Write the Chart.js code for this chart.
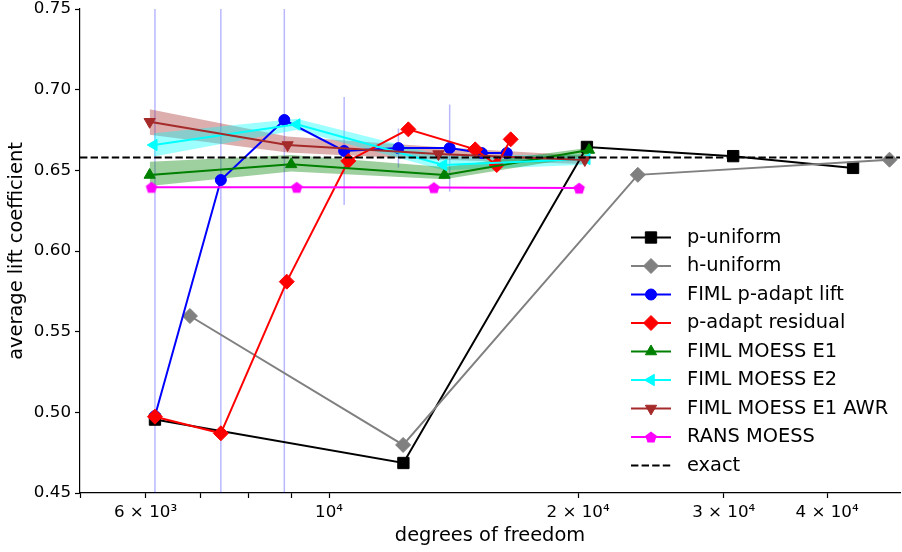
<!DOCTYPE html>
<html>
<head>
<meta charset="utf-8">
<title>average lift coefficient vs degrees of freedom</title>
<script src="https://cdn.jsdelivr.net/npm/chart.js@4/dist/chart.umd.min.js"></script>
<style>
  html, body { margin: 0; padding: 0; background: #fff; }
  #lift-chart { display: block; }
</style>
</head>
<body>
<canvas id="lift-chart" width="902" height="552"></canvas>
<script>
// degrees of freedom (x) and average lift coefficient (y) for each run
const pUniformDof = [6160, 12300, 20500, 30800, 43000];
const pUniformCl = [0.4955, 0.4686, 0.6645, 0.6588, 0.6515];

const hUniformDof = [6790, 12290, 23620, 47590];
const hUniformCl = [0.5597, 0.4798, 0.6472, 0.6566];

const pAdaptLiftDof = [6160, 7400, 8830, 10430, 12130, 13990, 15300, 16400];
const pAdaptLiftCl = [0.4977, 0.6440, 0.6812, 0.6620, 0.6638, 0.6638, 0.6607, 0.6607];
const pAdaptLiftErr = [0.5, 0.5, 0.5, 0.0335, 0.0121, 0.0270, 0, 0];

const pAdaptResDof = [6160, 7400, 8890, 10550, 12470, 15020, 15950, 16580];
const pAdaptResCl = [0.4973, 0.4870, 0.5810, 0.6558, 0.6754, 0.6630, 0.6533, 0.6692];

const moessE1Dof = [6070, 9000, 13790, 20620];
const moessE1Cl = [0.6471, 0.6537, 0.6471, 0.6626];
const moessE1Lo = [0.6403, 0.6492, 0.6445, 0.6590];
const moessE1Hi = [0.6553, 0.6595, 0.6520, 0.6640];

const moessE2Dof = [6140, 9140, 13750, 20490];
const moessE2Cl = [0.6657, 0.6785, 0.6533, 0.6570];
const moessE2Lo = [0.6585, 0.6750, 0.6500, 0.6535];
const moessE2Hi = [0.6730, 0.6820, 0.6590, 0.6600];

const awrDof = [6070, 8910, 13560, 20380];
const awrCl = [0.6801, 0.6657, 0.6601, 0.6564];
const awrLo = [0.6720, 0.6610, 0.6565, 0.6540];
const awrHi = [0.6878, 0.6710, 0.6645, 0.6590];

const ransDof = [6100, 9140, 13390, 20060];
const ransCl = [0.6395, 0.6395, 0.6393, 0.6390];

const exactCl = 0.658;

const dofRange = [5000, 49000];
const dofTicks = [5000, 6000, 7000, 8000, 9000, 10000, 20000, 30000, 40000];
const dofTickLabels = ['', '6 × 10³', '', '', '', '10⁴', '2 × 10⁴', '3 × 10⁴', '4 × 10⁴'];

const LABEL_FONT = { family: "'DejaVu Sans', sans-serif", size: 19.4 };

Chart.defaults.font.family = "'DejaVu Sans', sans-serif";
Chart.defaults.font.size = 16.7;
Chart.defaults.color = '#000';

function points(xs, ys) {
    return xs.map((x, i) => ({ x: x, y: ys[i] }));
}

// pentagon marker for the RANS curve
function pentagonMarker(color, r) {
    const c = document.createElement('canvas');
    c.width = c.height = Math.ceil(r * 2 + 2);
    const g = c.getContext('2d');
    const cx = c.width / 2, cy = c.height / 2;
    g.beginPath();
    for (let k = 0; k < 5; k++) {
        const a = -Math.PI / 2 + k * 2 * Math.PI / 5;
        const px = cx + r * Math.cos(a), py = cy + r * Math.sin(a) + r * 0.1;
        if (k === 0) g.moveTo(px, py); else g.lineTo(px, py);
    }
    g.closePath();
    g.fillStyle = color;
    g.fill();
    return c;
}

function curve(label, xs, ys, color, pointStyle, radius, rotation, order) {
    return {
        label: label,
        data: points(xs, ys),
        borderColor: color,
        backgroundColor: color,
        borderWidth: 2,
        pointStyle: pointStyle,
        pointRadius: radius,
        pointRotation: rotation,
        pointBorderWidth: 1,
        pointBackgroundColor: color,
        pointBorderColor: color,
        showLine: true,
        fill: false,
        tension: 0,
        order: order,
        inLegend: true
    };
}

const datasets = [
    curve('p-uniform', pUniformDof, pUniformCl, '#000000', 'rect', 8, 0, 9),
    curve('h-uniform', hUniformDof, hUniformCl, '#808080', 'rectRot', 7.5, 0, 8),
    curve('FIML p-adapt lift', pAdaptLiftDof, pAdaptLiftCl, '#0000ff', 'circle', 5.5, 0, 7),
    curve('p-adapt residual', pAdaptResDof, pAdaptResCl, '#ff0000', 'rectRot', 7.5, 0, 6),
    curve('FIML MOESS E1', moessE1Dof, moessE1Cl, '#008000', 'triangle', 6.5, 0, 5),
    curve('FIML MOESS E2', moessE2Dof, moessE2Cl, '#00ffff', 'triangle', 6.5, 270, 4),
    curve('FIML MOESS E1 AWR', awrDof, awrCl, '#a52a2a', 'triangle', 6.5, 180, 3),
    curve('RANS MOESS', ransDof, ransCl, '#ff00ff', pentagonMarker('#ff00ff', 6), 6, 0, 2),
    {
        label: 'exact',
        data: dofRange.map(x => ({ x: x, y: exactCl })),
        borderColor: '#000000',
        borderWidth: 2,
        borderDash: [7.4, 3.2],
        pointRadius: 0,
        showLine: true,
        fill: false,
        order: 1,
        inLegend: true
    }
];

// shaded spread around the MOESS curves
function band(xs, lo, hi, color) {
    datasets.push({
        data: points(xs, lo),
        borderWidth: 0,
        pointRadius: 0,
        fill: false,
        order: 15
    });
    datasets.push({
        data: points(xs, hi),
        borderWidth: 0,
        pointRadius: 0,
        backgroundColor: color,
        fill: '-1',
        order: 15
    });
}
band(moessE1Dof, moessE1Lo, moessE1Hi, 'rgba(0,128,0,0.38)');
band(moessE2Dof, moessE2Lo, moessE2Hi, 'rgba(0,255,255,0.38)');
band(awrDof, awrLo, awrHi, 'rgba(165,42,42,0.38)');

// error bars of the lift-adapted runs
pAdaptLiftDof.forEach((x, i) => {
    const e = pAdaptLiftErr[i];
    if (!e) return;
    datasets.push({
        data: [{ x: x, y: pAdaptLiftCl[i] - e }, { x: x, y: pAdaptLiftCl[i] + e }],
        borderColor: 'rgba(0,0,255,0.28)',
        borderWidth: 1.5,
        pointRadius: 0,
        showLine: true,
        fill: false,
        order: 20
    });
});

// legend drawn inside the plot, lower right
const insideLegend = {
    id: 'insideLegend',
    afterDraw(chart) {
        const { ctx, chartArea } = chart;
        const x0 = chartArea.right - 269;
        let y = chartArea.bottom - 255.5;
        ctx.save();
        chart.data.datasets.forEach(ds => {
            if (!ds.inLegend) return;
            ctx.strokeStyle = ds.borderColor;
            ctx.lineWidth = ds.borderWidth;
            ctx.setLineDash(ds.borderDash || []);
            ctx.beginPath();
            ctx.moveTo(x0, y);
            ctx.lineTo(x0 + 40, y);
            ctx.stroke();
            ctx.setLineDash([]);
            if (ds.pointRadius > 0) {
                ctx.fillStyle = ds.pointBackgroundColor;
                ctx.strokeStyle = ds.pointBorderColor;
                ctx.lineWidth = ds.pointBorderWidth;
                Chart.helpers.drawPoint(ctx, {
                    pointStyle: ds.pointStyle,
                    rotation: ds.pointRotation,
                    radius: ds.pointRadius,
                    borderWidth: ds.pointBorderWidth
                }, x0 + 20, y);
            }
            ctx.fillStyle = '#000';
            ctx.font = LABEL_FONT.size + 'px ' + LABEL_FONT.family;
            ctx.textBaseline = 'middle';
            ctx.textAlign = 'left';
            ctx.fillText(ds.label, x0 + 56, y);
            y += 28.5;
        });
        ctx.restore();
    }
};

// fixed axis sizes, no extra room for overflowing tick labels
function fixedSize(prop, size) {
    return function (scale) {
        scale[prop] = size;
        scale.paddingLeft = scale.paddingRight = 0;
        scale.paddingTop = scale.paddingBottom = 0;
    };
}

new Chart(document.getElementById('lift-chart').getContext('2d'), {
    type: 'line',
    data: { datasets: datasets },
    options: {
        responsive: false,
        animation: false,
        devicePixelRatio: 1,
        layout: {
            autoPadding: false,
            padding: { top: 9, right: 2, left: 0, bottom: 0 }
        },
        plugins: {
            legend: { display: false },
            tooltip: { enabled: false }
        },
        scales: {
            x: {
                type: 'logarithmic',
                min: dofRange[0],
                max: dofRange[1],
                afterBuildTicks(scale) {
                    scale.ticks = dofTicks.map(v => ({ value: v }));
                },
                afterFit: fixedSize('height', 59),
                ticks: {
                    autoSkip: false,
                    maxRotation: 0,
                    padding: 5,
                    callback: (value, index) => dofTickLabels[index]
                },
                grid: {
                    drawOnChartArea: false,
                    tickLength: 5,
                    tickColor: '#000',
                    tickWidth: 1.2
                },
                border: { color: '#000', width: 1.2 },
                title: {
                    display: true,
                    text: 'degrees of freedom',
                    font: LABEL_FONT,
                    padding: { top: 0, bottom: 4 }
                }
            },
            y: {
                min: 0.45,
                max: 0.75,
                afterFit: fixedSize('width', 80),
                ticks: {
                    stepSize: 0.05,
                    padding: 4,
                    callback: v => v.toFixed(2)
                },
                grid: {
                    drawOnChartArea: false,
                    tickLength: 5,
                    tickColor: '#000',
                    tickWidth: 1.2
                },
                border: { color: '#000', width: 1.2 },
                title: {
                    display: true,
                    text: 'average lift coefficient',
                    font: LABEL_FONT,
                    padding: { top: 5, bottom: 0 }
                }
            }
        }
    },
    plugins: [insideLegend]
});
</script>
</body>
</html>
